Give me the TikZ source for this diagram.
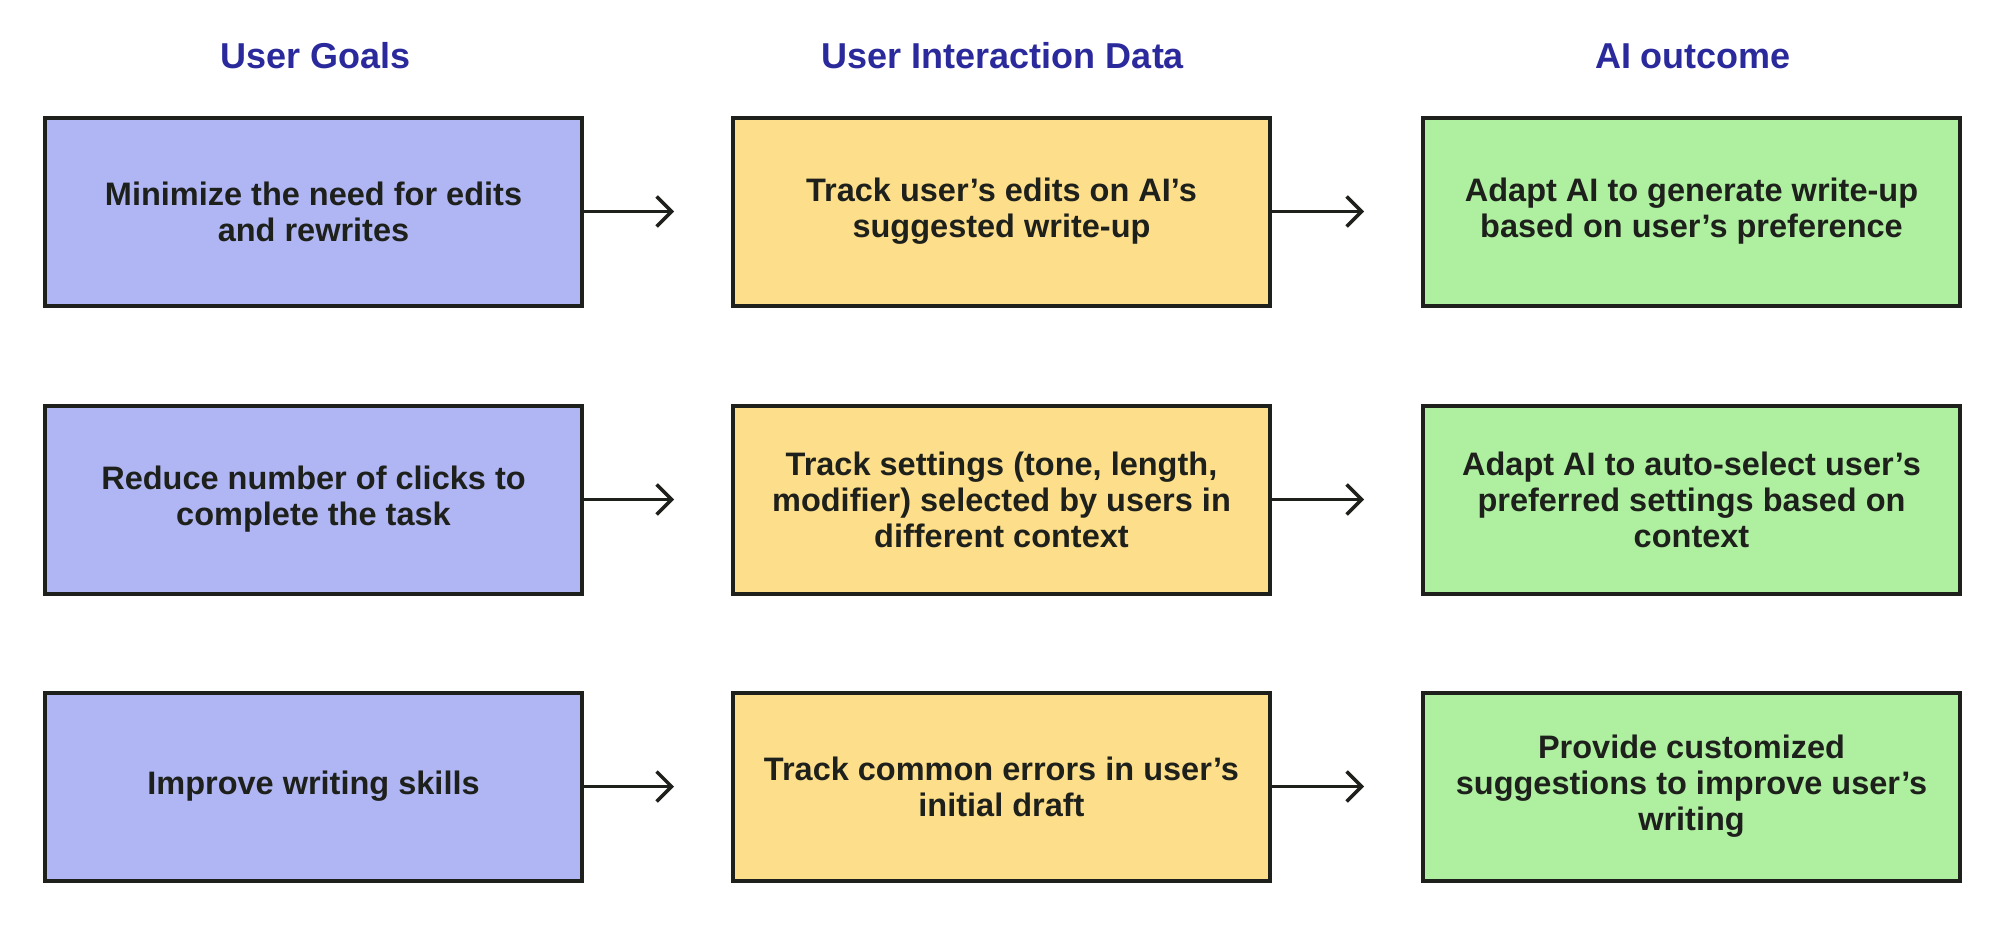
\documentclass[tikz,border=0pt]{standalone}
\usepackage{fontspec}
\setmainfont{Liberation Sans}
\usepackage{tikz}
\usetikzlibrary{arrows.meta}
\definecolor{goalblue}{HTML}{B0B6F3}
\definecolor{datayellow}{HTML}{FDDF8B}
\definecolor{outgreen}{HTML}{AEF0A0}
\definecolor{headblue}{HTML}{2B2A9C}
\definecolor{edgedark}{HTML}{1E201C}
\begin{document}
\begin{tikzpicture}[x=1pt,y=-1pt,
box node/.style={draw=edgedark,line width=4pt,minimum width=537pt,minimum height=188pt,
  align=center,font=\fontsize{32.5}{36}\selectfont\bfseries,text=edgedark,inner sep=0pt},
goal node/.style={box node,fill=goalblue},
data node/.style={box node,fill=datayellow},
out node/.style={box node,fill=outgreen},
head node/.style={font=\fontsize{36}{40}\selectfont\bfseries,text=headblue},
link/.style={draw=edgedark,line width=3.5pt,-{Straight Barb[length=15pt,width=30pt,line width=3.5pt]},shorten >=57pt}]
\useasboundingbox (0,0) rectangle (2000,924);
% headers
\node[head node] (h1) at (316,56) {User Goals};
\node[head node] (h2) at (1003,56) {User Interaction Data};
\node[head node] (h3) at (1693,56) {AI outcome};
% row 1
\node[goal node] (g1) at (313.5,211.5) {Minimize the need for edits\\and rewrites};
\node[data node] (d1) at (1001.5,211.5) {Track user’s edits on AI’s\\suggested write-up};
\node[out node] (o1) at (1691.5,211.5) {Adapt AI to generate write-up\\based on user’s preference};
% row 2
\node[goal node] (g2) at (313.5,499.5) {Reduce number of clicks to\\complete the task};
\node[data node] (d2) at (1001.5,499.5) {Track settings (tone, length,\\modifier) selected by users in\\different context};
\node[out node] (o2) at (1691.5,499.5) {Adapt AI to auto-select user’s\\preferred settings based on\\context};
% row 3
\node[goal node] (g3) at (313.5,786.5) {Improve writing skills};
\node[data node] (d3) at (1001.5,786.5) {Track common errors in user’s\\initial draft};
\node[out node] (o3) at (1691.5,786.5) {Provide customized\\suggestions to improve user’s\\writing};
% arrows
\draw[link] (g1) -- (d1);
\draw[link] (d1) -- (o1);
\draw[link] (g2) -- (d2);
\draw[link] (d2) -- (o2);
\draw[link] (g3) -- (d3);
\draw[link] (d3) -- (o3);
\end{tikzpicture}
\end{document}
